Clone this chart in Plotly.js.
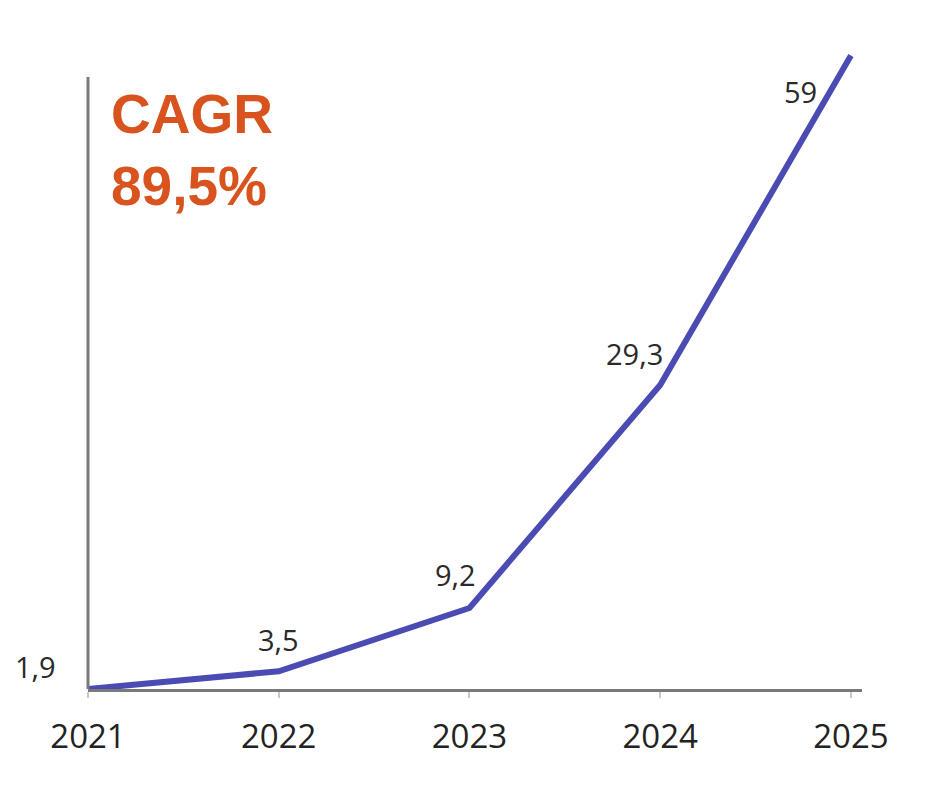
<!DOCTYPE html>
<html>
<head>
<meta charset="utf-8">
<script src="https://cdn.plot.ly/plotly-3.0.1.min.js"></script>
<style>html,body{margin:0;padding:0;background:#fff;}#chart{width:951px;height:795px;}</style>
</head>
<body>
<div id="chart"></div>
<script>
const years = [2021, 2022, 2023, 2024, 2025];
const values = [1.9, 3.5, 9.2, 29.3, 59];
const valueLabels = ["1,9", "3,5", "9,2", "29,3", "59"];
const tickLabels = ["2021", "2022", "2023", "2024", "2025"];
const labelOffsets = [[-53, -23], [0, -32], [-14, -34], [-26, -32], [-50, 36]];
const titleLines = ["CAGR", "89,5%"];

const trace = {
  x: years, y: values, type: 'scatter', mode: 'lines',
  line: {color: '#4b4cb3', width: 6},
  hoverinfo: 'skip', cliponaxis: false
};

const annotations = years.map((yr, i) => ({
  x: yr, y: values[i], xref: 'x', yref: 'y',
  text: valueLabels[i], showarrow: true, arrowcolor: 'rgba(0,0,0,0)',
  ax: labelOffsets[i][0], ay: labelOffsets[i][1],
  font: {family: 'Open Sans, sans-serif', size: 29, color: '#2a2a2a'}
}));
annotations.push({
  xref: 'paper', yref: 'paper', x: 0.027, y: 0.937, xanchor: 'left', yanchor: 'top',
  text: titleLines.join('<br>'), showarrow: false, align: 'left',
  font: {family: 'Liberation Sans, Arial, sans-serif', size: 55, color: '#d9531e', weight: 'bold'}
});

const layout = {
  width: 951, height: 795,
  margin: {l: 88, r: 89, t: 40, b: 106},
  paper_bgcolor: '#fff', plot_bgcolor: '#fff',
  showlegend: false,
  xaxis: {
    range: [2021, 2025.058], tickvals: years, ticktext: tickLabels,
    showgrid: false, zeroline: false, showline: true, linecolor: '#7a7a7a', linewidth: 3,
    ticks: 'outside', ticklen: 6, tickwidth: 2, tickcolor: '#c8c8c8',
    ticklabelstandoff: 10,
    tickfont: {family: 'Open Sans, sans-serif', size: 33, color: '#222'}
  },
  yaxis: {
    range: [1.9, 60.4], showgrid: false, zeroline: false, showline: false,
    showticklabels: false, ticks: ''
  },
  shapes: [{
    type: 'line', xref: 'paper', yref: 'paper', x0: 0, x1: 0, y0: 0, y1: 0.943,
    line: {color: '#7a7a7a', width: 3}
  }],
  annotations: annotations
};

Plotly.newPlot('chart', [trace], layout, {displayModeBar: false, staticPlot: true});
</script>
</body>
</html>
